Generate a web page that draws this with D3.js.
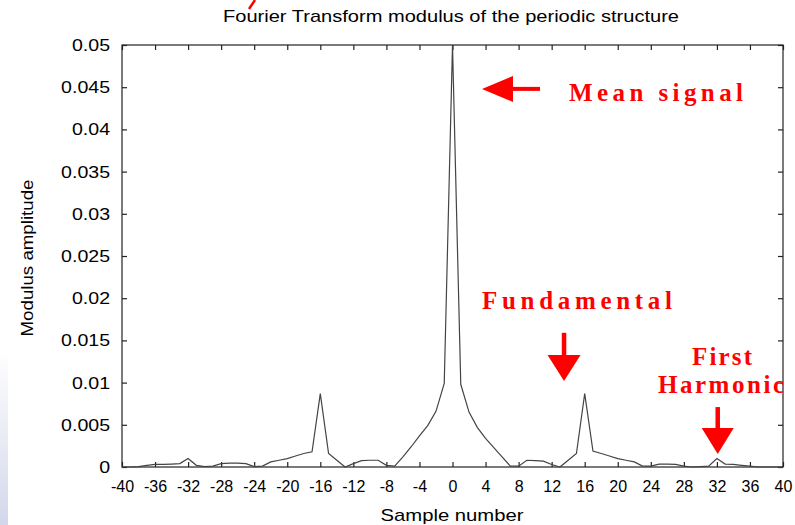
<!DOCTYPE html>
<html><head><meta charset="utf-8">
<script src="https://cdn.jsdelivr.net/npm/d3@7"></script>
<style>html,body{margin:0;padding:0;background:#fff;}svg{display:block;}</style>
</head><body>
<script>
// ---- data ----
const sampleNumbers = [-40,-39,-38,-37,-36,-35,-34,-33,-32,-31,-30,-29,-28,-27,-26,-25,-24,-23,-22,-21,
  -20,-19,-18,-17,-16,-15,-14,-13,-12,-11,-10,-9,-8,-7,-6,-5,-4,-3,-2,-1,0,
  1,2,3,4,5,6,7,8,9,10,11,12,13,14,15,16,17,18,19,20,21,22,23,24,25,26,27,28,29,30,
  31,32,33,34,35,36,37,38,39,40];
const modulusAmplitude = [0,0,0.00005,0.0002,0.0003,0.0003,0.00035,0.0004,0.001,0.0002,
  0.00005,0.0001,0.0004,0.00045,0.00045,0.0004,0.00005,0.0001,0.0006,0.0008,
  0.001,0.0013,0.0016,0.0018,0.0087,0.0016,0.0008,0.0,0.0004,0.00075,
  0.0008,0.0008,0.0002,0.0001,0.0012,0.0024,0.0037,0.0049,0.0066,0.0099,0.05,
  0.0098,0.0065,0.0047,0.0034,0.0023,0.0012,0.0001,0.0001,0.0008,0.00075,
  0.0007,0.0003,0.0,0.0008,0.0016,0.0087,0.0019,0.0016,0.0013,0.001,
  0.0008,0.0006,0.0001,0.0001,0.00035,0.00035,0.0003,0.0001,0.0,0.00005,
  0.0001,0.001,0.00035,0.0003,0.0002,0.0001,0,0,0,0];
const xTicks = [-40,-36,-32,-28,-24,-20,-16,-12,-8,-4,0,4,8,12,16,20,24,28,32,36,40];
const yTicks = [0,0.005,0.01,0.015,0.02,0.025,0.03,0.035,0.04,0.045,0.05];
const yTickLabels = ["0","0.005","0.01","0.015","0.02","0.025","0.03","0.035","0.04","0.045","0.05"];
const titleText = "Fourier Transform modulus of the periodic structure";
const xLabel = "Sample number";
const yLabel = "Modulus amplitude";
const annotationTexts = ["Mean signal","Fundamental","First","Harmonic"];

// ---- drawing ----
const W = 795, H = 525;
const svg = d3.select("body").append("svg").attr("width", W).attr("height", H);
const defs = svg.append("defs");
const grad = defs.append("linearGradient").attr("id","lg").attr("x1",0).attr("y1",0).attr("x2",0).attr("y2",1);
grad.append("stop").attr("offset","0%").attr("stop-color","#ffffff");
grad.append("stop").attr("offset","100%").attr("stop-color","#d3d7ea");
svg.append("rect").attr("x",0).attr("y",350).attr("width",8).attr("height",175).attr("fill","url(#lg)");

const x = d3.scaleLinear().domain([-40,40]).range([122,783]);
const y = d3.scaleLinear().domain([0,0.05]).range([467,45]);
const sans = "'Liberation Sans', Arial, Helvetica, sans-serif";
const serif = "'Liberation Serif', 'Times New Roman', serif";

// frame
svg.append("rect").attr("x",x(-40)).attr("y",y(0.05)).attr("width",x(40)-x(-40)).attr("height",y(0)-y(0.05))
  .attr("fill","none").attr("stroke","#222").attr("stroke-width",1.2);

const fmtX = d => String(d);
const axB = svg.append("g").attr("transform",`translate(0,${y(0)})`)
  .call(d3.axisBottom(x).tickValues(xTicks).tickSizeInner(-5).tickSizeOuter(0).tickPadding(14).tickFormat(fmtX));
const axT = svg.append("g").attr("transform",`translate(0,${y(0.05)})`)
  .call(d3.axisTop(x).tickValues(xTicks).tickSizeInner(-5).tickSizeOuter(0).tickFormat(""));
const axL = svg.append("g").attr("transform",`translate(${x(-40)},0)`)
  .call(d3.axisLeft(y).tickValues(yTicks).tickSizeInner(-5).tickSizeOuter(0).tickPadding(12).tickFormat((d,i)=>yTickLabels[i]));
const axR = svg.append("g").attr("transform",`translate(${x(40)},0)`)
  .call(d3.axisRight(y).tickValues(yTicks).tickSizeInner(-5).tickSizeOuter(0).tickFormat(""));
[axB,axT,axL,axR].forEach(g=>{
  g.select(".domain").remove();
  g.selectAll(".tick line").attr("stroke","#222").attr("stroke-width",1.2);
  g.selectAll("text").attr("font-family",sans).attr("font-size",16).attr("fill","#000");
});
axL.selectAll(".tick text").attr("font-size",17).each(function(){
  const w = this.getComputedTextLength();
  d3.select(this).attr("textLength", w*1.15).attr("lengthAdjust","spacingAndGlyphs");
});

// line
const line = d3.line().x((d,i)=>x(sampleNumbers[i])).y(d=>y(d));
svg.append("path").datum(modulusAmplitude).attr("d",line)
  .attr("fill","none").attr("stroke","#444").attr("stroke-width",1.2).attr("stroke-linejoin","miter");

// titles
svg.append("text").attr("x",451).attr("y",22).attr("text-anchor","middle")
  .attr("font-family",sans).attr("font-size",17).attr("textLength",456).attr("lengthAdjust","spacingAndGlyphs")
  .text(titleText);
svg.append("text").attr("x",452).attr("y",521).attr("text-anchor","middle")
  .attr("font-family",sans).attr("font-size",17).attr("textLength",143).attr("lengthAdjust","spacingAndGlyphs")
  .text(xLabel);
svg.append("text").attr("transform","translate(33,258) rotate(-90)").attr("text-anchor","middle")
  .attr("font-family",sans).attr("font-size",17).attr("textLength",157).attr("lengthAdjust","spacingAndGlyphs")
  .text(yLabel);

// red stroke at top (cut-off glyph)
svg.append("path").attr("d","M255,0 L249,9").attr("stroke","#ff0000").attr("stroke-width",2.5).attr("fill","none");

// annotations
defs.append("clipPath").attr("id","cp").append("rect").attr("x",0).attr("y",0).attr("width",x(40)).attr("height",H);
const ann = svg.append("g").attr("clip-path","url(#cp)");
const red = "#ff0000";
function arrowLeft(tipX, tipY, headLen, headHalf, shaftEnd, shaftW){
  ann.append("path").attr("fill",red)
    .attr("d",`M${tipX},${tipY} L${tipX+headLen},${tipY-headHalf} L${tipX+headLen},${tipY+headHalf} Z`);
  ann.append("rect").attr("fill",red).attr("x",tipX+headLen-1).attr("y",tipY-shaftW/2).attr("width",shaftEnd-(tipX+headLen)+1).attr("height",shaftW);
}
function arrowDown(cx, tipY, headLen, headHalf, shaftTop, shaftW){
  ann.append("path").attr("fill",red)
    .attr("d",`M${cx},${tipY} L${cx-headHalf},${tipY-headLen} L${cx+headHalf},${tipY-headLen} Z`);
  ann.append("rect").attr("fill",red).attr("x",cx-shaftW/2).attr("y",shaftTop).attr("width",shaftW).attr("height",tipY-headLen-shaftTop+1);
}
arrowLeft(x(3.57), y(0.0448), 31, 13, 540, 4);
arrowDown(x(13.5), y(0.0102), 26, 16.5, y(0.0159), 4.5);
arrowDown(x(32.1), y(0.00154), 26, 16, y(0.0071), 4.5);

const annPos = [[569,101,174],[482,309,190],[692,365,60],[658,393,126]];
annotationTexts.forEach((t,i)=>{
  ann.append("text").attr("x",annPos[i][0]).attr("y",annPos[i][1])
    .attr("font-family",serif).attr("font-weight","bold").attr("font-size",25).attr("fill",red)
    .attr("textLength",annPos[i][2]).attr("lengthAdjust","spacing").text(t);
});
</script>
</body></html>
